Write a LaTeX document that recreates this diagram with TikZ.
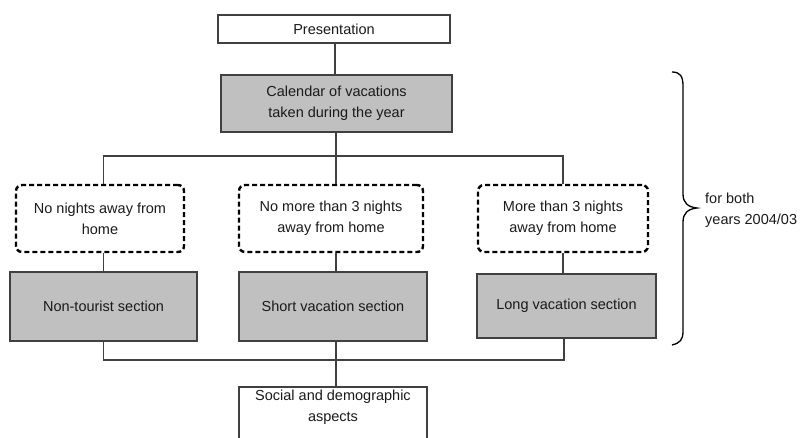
\documentclass[tikz,border=0pt]{standalone}
\usepackage{fontspec}
\setmainfont{Liberation Sans}
\definecolor{linegray}{HTML}{404040}
\definecolor{fillgray}{HTML}{C0C0C0}
\definecolor{txtcol}{HTML}{1A1A1A}
\begin{document}
\begin{tikzpicture}[x=1pt,y=-1pt,
  every node/.style={font=\fontsize{14.5}{21}\selectfont, text=txtcol, align=center, inner sep=0pt},
  plainbox/.style={draw=linegray, line width=1.5pt, fill=white},
  graybox/.style={draw=linegray, line width=1.5pt, fill=fillgray},
  dashbox/.style={draw=black, line width=2.4pt, dash pattern=on 5pt off 3pt, rounded corners=6pt},
  conn/.style={draw=linegray, line width=1.5pt},
  bracestyle/.style={draw=black, line width=1.3pt}]
\useasboundingbox (0,0) rectangle (801,437);

\node (pres) [plainbox, minimum width=232, minimum height=28] at (334,29) {Presentation};
\node (cal) [graybox, minimum width=231, minimum height=57] at (336.5,103.5) {Calendar of vacations\\taken during the year};

\node (d1) [dashbox, minimum width=168, minimum height=67] at (100,218.5) {No nights away from\\home};
\node (d2) [dashbox, minimum width=184, minimum height=67] at (331,218.5) {No more than 3 nights\\away from home};
\node (d3) [dashbox, minimum width=170, minimum height=67] at (563,218.5) {More than 3 nights\\away from home};

\node (g1) [graybox, minimum width=187, minimum height=69] at (103.5,306.5) {Non-tourist section};
\node (g2) [graybox, minimum width=188, minimum height=69] at (333,306.5) {Short vacation section};
\node (g3) [graybox, minimum width=179, minimum height=64] at (566.5,306) {Long vacation section};

\node (socbox) [plainbox, anchor=north, minimum width=188, minimum height=80] at (333,386) {};
\node (soc) [anchor=north] at ([yshift=-4pt]socbox.north) {Social and demographic\\aspects};

\coordinate (bus1) at (336,156);
\coordinate (bus2) at (336,360);

\draw[conn] (pres.south -| 335,0) -- (cal.north -| 335,0);
\draw[conn] (cal.south -| bus1) -- (bus1);
\draw[conn] (d1.north -| g1.north) |- (bus1) -| (d3.north);
\draw[conn] (bus1) -- (d2.north -| bus1);
\draw[conn] (d1.south -| g1.north) -- (g1.north);
\draw[conn] (d2.south -| bus1) -- (g2.north -| bus1);
\draw[conn] (d3.south) -- (d3.south |- g3.north);
\draw[conn] (g1.south) |- (bus2) -| (g3.south -| 564,0);
\draw[conn] (g2.south -| bus2) -- (socbox.north -| bus2);

% brace
\coordinate (brtop) at (672,72);
\coordinate (brtip) at (697,208);
\coordinate (brbot) at (672,345);
\draw[bracestyle] (brtop) .. controls (680,72) and (683,76) .. (683,86)
  -- (683,194) .. controls (683,203) and (688,207) .. (brtip)
  .. controls (688,209) and (683,213) .. (683,222)
  -- (683,331) .. controls (683,340) and (680,343) .. (brbot);

\node (note) [anchor=west, align=left] at (705,210) {for both\\years 2004/03};
\end{tikzpicture}
\end{document}
